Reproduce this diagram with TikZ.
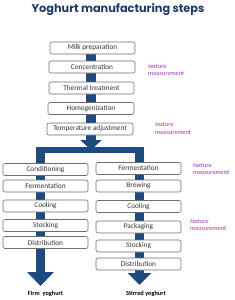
\documentclass[tikz,border=0pt]{standalone}
\usepackage{fontspec}
\setmainfont{Carlito}
\newfontfamily\titlefont{Poppins}
\usetikzlibrary{arrows.meta,backgrounds}
\definecolor{barblue}{HTML}{1F4A7F}
\definecolor{titleblue}{HTML}{1F3A6A}
\definecolor{texpurple}{HTML}{A035C0}
\definecolor{boxline}{HTML}{6E6E6E}
\tikzset{
  stepbox/.style={draw=boxline, line width=0.6pt, fill=white, rounded corners=2pt,
    minimum width=85pt, minimum height=12pt, inner sep=0pt,
    font=\fontsize{7.3}{8}\selectfont, text=black!80},
  bar/.style={draw=barblue, line width=#1},
  bigarrow/.style={draw=barblue, line width=#1},
  texlabel/.style={anchor=west, align=left, inner sep=0pt, text=texpurple,
    font=\fontsize{6.4}{7.5}\selectfont\itshape},
  outlabel/.style={inner sep=0pt, font=\fontsize{6.3}{7}\selectfont\bfseries, text=black}
}
\begin{document}
\begin{tikzpicture}[x=1pt, y=-1pt]
\useasboundingbox (0,0) rectangle (235,300);
\node[inner sep=0pt, text=titleblue, font=\titlefont\bfseries\fontsize{11.3}{13}\selectfont] (title) at (118,10) {Yoghurt manufacturing steps};
% top column
\node[stepbox, minimum width=85pt] (milk) at (92.5,48) {Milk preparation};
\node[stepbox, minimum width=86pt] (conc) at (92,67) {Concentration};
\node[stepbox, minimum width=85pt] (therm) at (91.5,88) {Thermal treatment};
\node[stepbox, minimum width=86pt] (homo) at (91,108.5) {Homogenization};
\node[stepbox, minimum width=86pt] (temp) at (90,129) {Temperature adjustment};
% left column
\node[stepbox] (cond) at (45.5,169.5) {Conditioning};
\node[stepbox] (lferm) at (45.5,186) {Fermentation};
\node[stepbox] (lcool) at (45.5,206) {Cooling};
\node[stepbox] (lstock) at (45.5,225.5) {Stocking};
\node[stepbox] (ldist) at (45.5,242.5) {Distribution};
% right column
\node[stepbox] (rferm) at (138.5,168.5) {Fermentation};
\node[stepbox] (brew) at (138.5,186) {Brewing};
\node[stepbox] (rcool) at (138.5,206.5) {Cooling};
\node[stepbox] (pack) at (138.5,227) {Packaging};
\node[stepbox] (rstock) at (138.5,246) {Stocking};
\node[stepbox] (rdist) at (138.5,264) {Distribution};
% split coordinates
\coordinate (split) at (91,150);
\coordinate (lsplit) at (40.5,150);
\coordinate (rsplit) at (139.5,150);
\coordinate (lend) at (40.5,286);
\coordinate (rend) at (139.5,285);
% outcome labels
\node[outlabel] (firm) at (45.5,294) {Firm\ \ yoghurt};
\node[outlabel] (stirred) at (146,294) {Stirred yoghurt};
% texture measurement labels
\node[texlabel] (t1) at (148,70) {texture\\measurement};
\node[texlabel] (t2) at (155,128.5) {texture\\measurement};
\node[texlabel] (t3) at (193,169) {texture\\measurement};
\node[texlabel] (t4) at (190,225) {texture\\measurement};
\begin{scope}[on background layer]
  % top connector
  \draw[bar=10pt] (milk.center -| split) -- (temp.center -| split);
  \draw[bigarrow=10pt, -{Triangle[width=21pt,length=10pt]}] (temp.center -| split) -- (split);
  % horizontal split bar
  \draw[bar=6pt] ([xshift=-4.5pt]lsplit) -- ([xshift=4.5pt]rsplit);
  % left column
  \draw[bigarrow=9pt, -{Triangle[width=26pt,length=14pt]}] (lsplit) -- (lend);
  % right column
  \draw[bigarrow=9pt, -{Triangle[width=23pt,length=12pt]}] (rsplit) -- (rend);
\end{scope}
\end{tikzpicture}
\end{document}
